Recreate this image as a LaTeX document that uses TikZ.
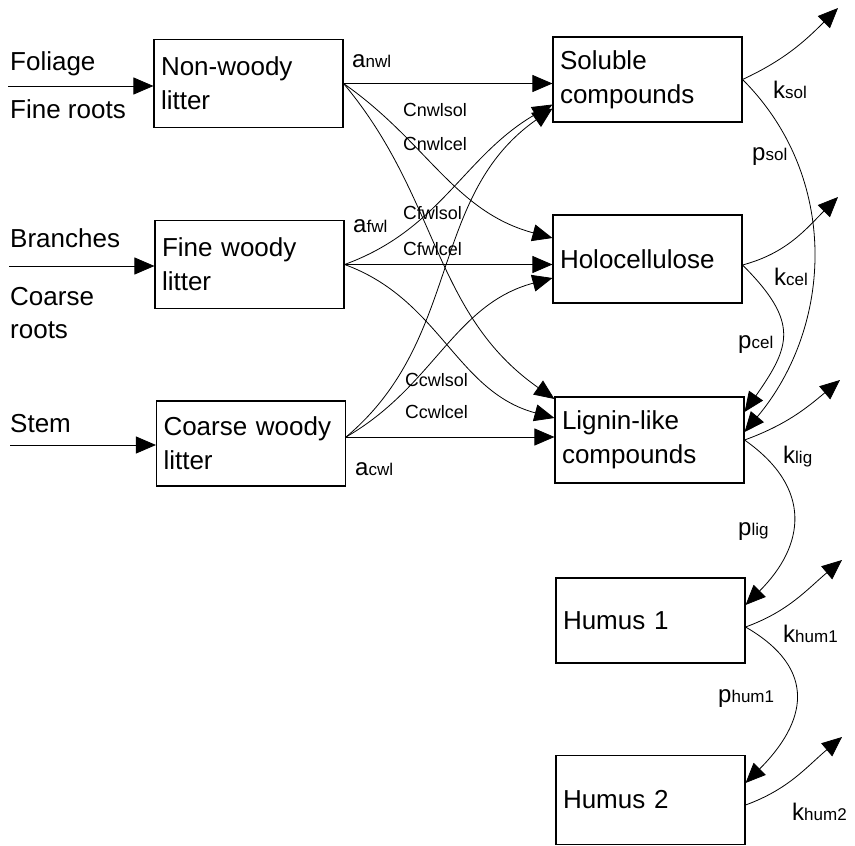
\documentclass[tikz,border=0pt]{standalone}
\usepackage{fontspec}
\setmainfont{Liberation Sans}
\usetikzlibrary{arrows.meta}

\newcommand{\rt}[2]{{\fontsize{24}{24}\selectfont #1}{\fontsize{17}{17}\selectfont #2}}
\newcommand{\cf}[1]{{\fontsize{19}{19}\selectfont C}{\fontsize{18}{18}\selectfont #1}}

\begin{document}
\begin{tikzpicture}[x=1pt, y=1pt,
  pool/.style={draw, line width=1.1pt, minimum width=189pt, minimum height=88pt,
    text width=175pt, align=left, inner sep=0pt, font=\fontsize{26}{34}\selectfont},
  src/.style={anchor=base west, inner sep=0pt, font=\fontsize{26}{34}\selectfont},
  lab/.style={anchor=base west, inner sep=0pt},
  flow/.style={line width=0.8pt, -{Triangle[length=20pt,width=17pt]}}]
\useasboundingbox (0,0) rectangle (855,-846);

% litter pools
\node[pool] (nwl) at (248.5,-83.5) {Non-woody\\litter};
\node[pool] (fwl) at (249.5,-264.5) {Fine woody\\litter};
\node[pool, minimum height=85pt] (cwl) at (251,-443.5) {Coarse woody\\litter};
% compound pools
\node[pool, minimum height=85pt] (sol) at (647.5,-79.5) {Soluble\\compounds};
\node[pool] (hol) at (647.5,-259) {Holocellulose};
\node[pool, minimum height=86pt] (lig) at (649.5,-440) {Lignin-like\\compounds};
\node[pool, minimum height=85pt] (hum1) at (650.5,-620.5) {Humus 1};
\node[pool, minimum height=89pt] (hum2) at (650.5,-800) {Humus 2};

% inputs
\node[src] (foliage) at (10,-70) {Foliage};
\node[src] (fineroots) at (10,-118) {Fine roots};
\node[src] (branches) at (10,-247) {Branches};
\node[src] (coarse) at (10,-305) {Coarse};
\node[src] (roots) at (10,-338) {roots};
\node[src] (stem) at (10,-432) {Stem};
\coordinate (inA) at (8,-86);
\coordinate (inB) at (9,-266);
\coordinate (inC) at (10,-445);
\draw[flow] (inA) -- (inA -| nwl.west);
\draw[flow] (inB) -- (inB -| fwl.west);
\draw[flow] (inC) -- (inC -| cwl.west);

% litter to compounds
\coordinate (cwlout) at ([yshift=6.5]cwl.east);
\draw[flow] (nwl.east) -- (nwl.east -| sol.west);
\draw[flow] (fwl.east) -- (fwl.east -| hol.west);
\draw[flow] (cwlout) -- (cwlout -| lig.west);
\draw[flow] (nwl.east) to[out=-35,in=165] ([yshift=21]hol.west);
\draw[flow] (nwl.east) to[out=-50,in=145] ([yshift=41]lig.west);
\draw[flow] (fwl.east) to[out=20,in=210] ([yshift=-25]sol.west);
\draw[flow] (fwl.east) to[out=-20,in=165] ([yshift=22]lig.west);
\draw[flow] (cwlout) to[out=40,in=215] ([yshift=-29]sol.west);
\draw[flow] (cwlout) to[out=30,in=195] ([yshift=-19]hol.west);

% losses
\coordinate (ksolend) at (838,-8);
\coordinate (kcelend) at (838,-197);
\coordinate (kligend) at (840,-380);
\coordinate (khumAend) at (842,-560);
\coordinate (khumBend) at (842,-737);
\draw[flow] (sol.east) to[out=25,in=225] (ksolend);
\draw[flow] ([yshift=-6]hol.east) to[out=15,in=225] (kcelend);
\draw[flow] (lig.east) to[out=20,in=220] (kligend);
\draw[flow] ([yshift=-6.5]hum1.east) to[out=20,in=220] (khumAend);
\draw[flow] ([yshift=-5]hum2.east) to[out=20,in=220] (khumBend);

% transfers
\draw[flow] (sol.east) to[out=-45,in=50] ([yshift=8]lig.east);
\draw[flow] ([yshift=-6]hol.east) to[out=-45,in=55,looseness=1.4] ([yshift=28]lig.east);
\draw[flow] (lig.east) to[out=-35,in=45,looseness=1.3] ([yshift=15.5]hum1.east);
\draw[flow] ([yshift=-6.5]hum1.east) to[out=-30,in=45,looseness=1.4] ([yshift=17]hum2.east);

% labels
\node[lab] (anwl) at (352,-67) {\rt{a}{nwl}};
\node[lab] (afwl) at (353,-232) {\rt{a}{fwl}};
\node[lab] (acwl) at (355,-475) {\rt{a}{cwl}};
\node[lab] (cnwlsol) at (403,-116) {\cf{nwlsol}};
\node[lab] (cnwlcel) at (403,-150) {\cf{nwlcel}};
\node[lab] (cfwlsol) at (403,-219) {\cf{fwlsol}};
\node[lab] (cfwlcel) at (403,-255) {\cf{fwlcel}};
\node[lab] (ccwlsol) at (405,-386) {\cf{cwlsol}};
\node[lab] (ccwlcel) at (405,-418) {\cf{cwlcel}};
\node[lab] (ksol) at (773,-98) {\rt{k}{sol}};
\node[lab] (psol) at (752,-160) {\rt{p}{sol}};
\node[lab] (kcel) at (774,-285) {\rt{k}{cel}};
\node[lab] (pcel) at (738,-348) {\rt{p}{cel}};
\node[lab] (klig) at (783,-463) {\rt{k}{lig}};
\node[lab] (plig) at (738,-535) {\rt{p}{lig}};
\node[lab] (khum1) at (783,-642) {\rt{k}{hum1}};
\node[lab] (phum1) at (718,-702) {\rt{p}{hum1}};
\node[lab] (khum2) at (792,-820) {\rt{k}{hum2}};
\end{tikzpicture}
\end{document}
